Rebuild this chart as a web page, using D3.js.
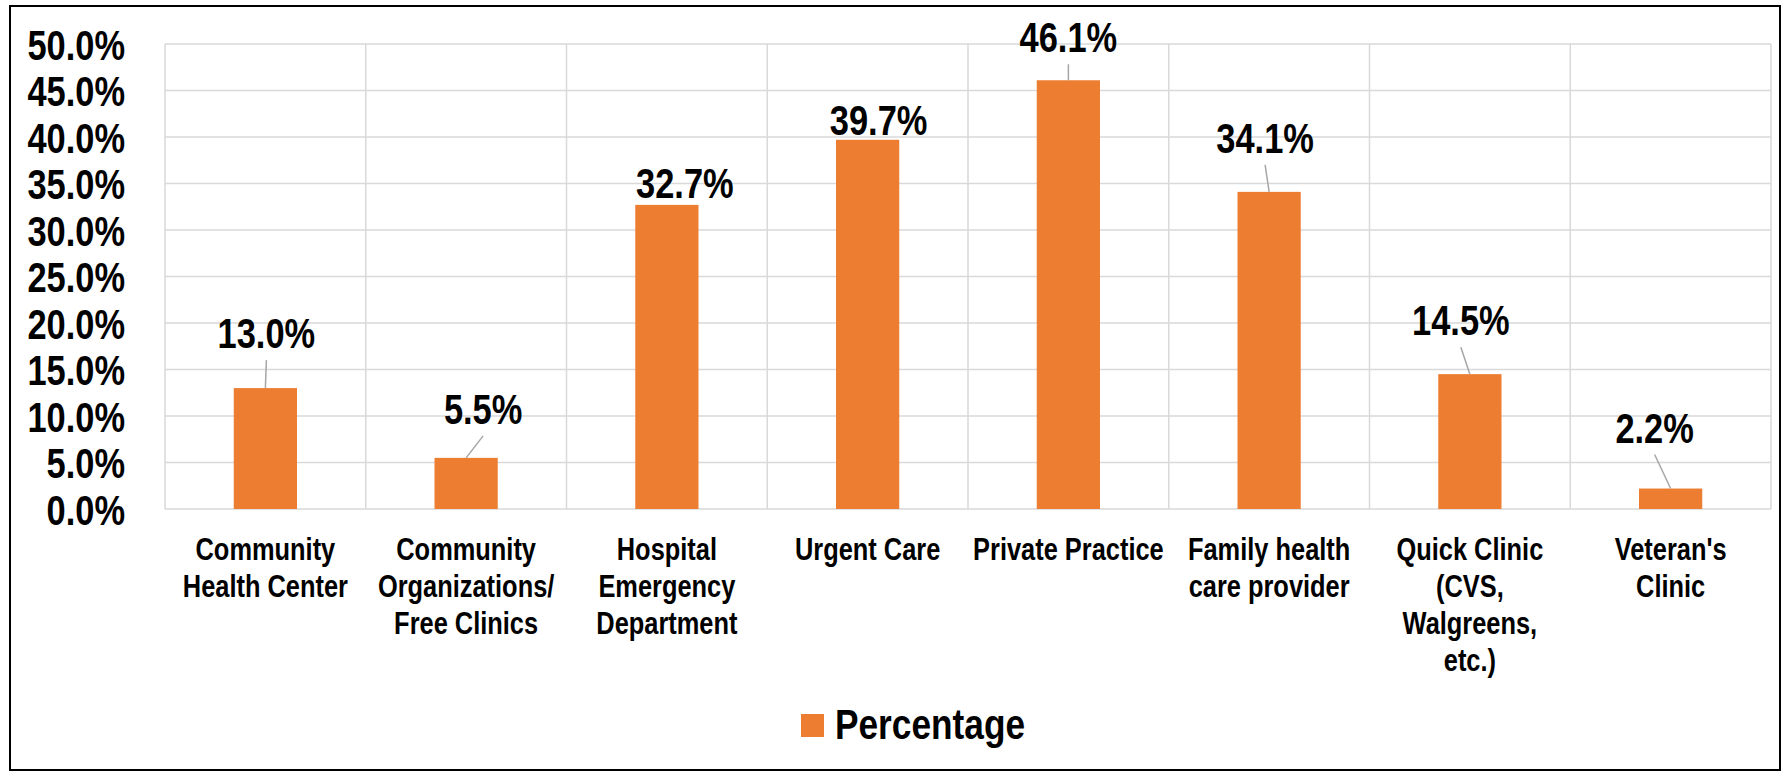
<!DOCTYPE html>
<html>
<head>
<meta charset="utf-8">
<script src="https://cdn.jsdelivr.net/npm/d3@7"></script>
<style>
  body { margin: 0; background: #fff; }
  svg text { font-family: "Liberation Sans", Arial, sans-serif; font-weight: bold; fill: #000; }
</style>
</head>
<body>
<div id="chart"></div>
<script>
// chart data
var categories = ["Community\nHealth Center", "Community\nOrganizations/\nFree Clinics", "Hospital\nEmergency\nDepartment",
  "Urgent Care", "Private Practice", "Family health\ncare provider", "Quick Clinic\n(CVS,\nWalgreens,\netc.)", "Veteran's\nClinic"];
var values = [13.0, 5.5, 32.7, 39.7, 46.1, 34.1, 14.5, 2.2];
var yTicks = [0, 5, 10, 15, 20, 25, 30, 35, 40, 45, 50];
var seriesName = "Percentage";

// where the labels were dragged to in the original (dx from bar centre, gap above bar top)
var labelDx = [1, 17, 18, 11, 0, -4, -9, -16];
var labelGap = [40, 34, 7, 5, 28, 39, 39, 46];

var W = 1783, H = 772;
var margin = {top: 44, right: 12, bottom: 263, left: 165};
var width = W - margin.left - margin.right,
    height = H - margin.top - margin.bottom;
var barColor = "#ED7D31", gridColor = "#d9d9d9";
var narrow = 0.82;  // no Arial Narrow here, so squeeze Liberation Sans

var fmt = function(d) { return d3.format(".1f")(d) + "%"; };

var svg = d3.select("#chart").append("svg")
    .attr("width", W)
    .attr("height", H);

// outer frame
svg.append("rect")
    .attr("x", 10).attr("y", 6)
    .attr("width", W - 13).attr("height", H - 8)
    .attr("fill", "none")
    .attr("stroke", "#000")
    .attr("stroke-width", 2);

var g = svg.append("g")
    .attr("transform", "translate(" + margin.left + "," + margin.top + ")");

var x = d3.scaleBand()
    .domain(d3.range(categories.length))
    .range([0, width]);

var y = d3.scaleLinear()
    .domain([0, 50])
    .range([height, 0]);

var barW = x.bandwidth() * 0.315;
var cx = function(i) { return x(i) + x.bandwidth() / 2; };

// horizontal gridlines
g.selectAll(".hgrid")
    .data(yTicks)
  .enter().append("line")
    .attr("class", "hgrid")
    .attr("x1", 0).attr("x2", width)
    .attr("y1", function(d) { return y(d); })
    .attr("y2", function(d) { return y(d); })
    .attr("stroke", gridColor)
    .attr("stroke-width", 1.5);

// vertical gridlines between the categories
g.selectAll(".vgrid")
    .data(d3.range(categories.length + 1))
  .enter().append("line")
    .attr("class", "vgrid")
    .attr("x1", function(d) { return d * x.step(); })
    .attr("x2", function(d) { return d * x.step(); })
    .attr("y1", 0).attr("y2", height)
    .attr("stroke", gridColor)
    .attr("stroke-width", 1.5);

// y axis labels
var yAxis = g.append("g")
    .call(d3.axisLeft(y).tickValues(yTicks).tickSize(0).tickPadding(40).tickFormat(fmt));
yAxis.select(".domain").remove();
yAxis.selectAll("text")
    .attr("font-size", 42)
    .attr("font-family", null)
    .attr("x", -40 / narrow)
    .attr("dy", "0.36em")
    .attr("transform", "scale(" + narrow + ",1)");

// bars
g.selectAll(".bar")
    .data(values)
  .enter().append("rect")
    .attr("class", "bar")
    .attr("x", function(d, i) { return cx(i) - barW / 2; })
    .attr("width", barW)
    .attr("y", function(d) { return y(d); })
    .attr("height", function(d) { return height - y(d); })
    .attr("fill", barColor);

// leader lines for labels that sit away from their bar
var rows = values.map(function(v, i) { return {v: v, i: i}; });
g.selectAll(".leader")
    .data(rows.filter(function(d) { return labelGap[d.i] > 20; }))
  .enter().append("line")
    .attr("class", "leader")
    .attr("x1", function(d) { return cx(d.i) + labelDx[d.i]; })
    .attr("y1", function(d) { return y(d.v) - labelGap[d.i] + 12; })
    .attr("x2", function(d) { return cx(d.i); })
    .attr("y2", function(d) { return y(d.v); })
    .attr("stroke", "#a6a6a6")
    .attr("stroke-width", 1.5);

// data labels
g.selectAll(".lbl")
    .data(rows)
  .enter().append("text")
    .attr("class", "lbl")
    .attr("transform", function(d) {
      return "translate(" + (cx(d.i) + labelDx[d.i]) + "," + (y(d.v) - labelGap[d.i]) + ") scale(" + narrow + ",1)";
    })
    .attr("text-anchor", "middle")
    .attr("font-size", 42)
    .text(function(d) { return fmt(d.v); });

// category labels, wrapped like the original
var xl = g.append("g")
    .attr("transform", "translate(0," + height + ")")
    .selectAll("text")
    .data(categories)
  .enter().append("text")
    .attr("text-anchor", "middle")
    .attr("font-size", 31)
    .attr("transform", function(d, i) { return "translate(" + cx(i) + ",51) scale(" + narrow + ",1)"; });
xl.selectAll("tspan")
    .data(function(d) { return d.split("\n"); })
  .enter().append("tspan")
    .attr("x", 0)
    .attr("dy", function(d, j) { return j == 0 ? 0 : 37; })
    .text(function(d) { return d; });

// legend
var legend = svg.append("g")
    .attr("transform", "translate(801,714)");
legend.append("rect")
    .attr("width", 23).attr("height", 23)
    .attr("fill", barColor);
legend.append("text")
    .attr("transform", "translate(34,25) scale(" + narrow + ",1)")
    .attr("font-size", 43)
    .text(seriesName);
</script>
</body>
</html>
